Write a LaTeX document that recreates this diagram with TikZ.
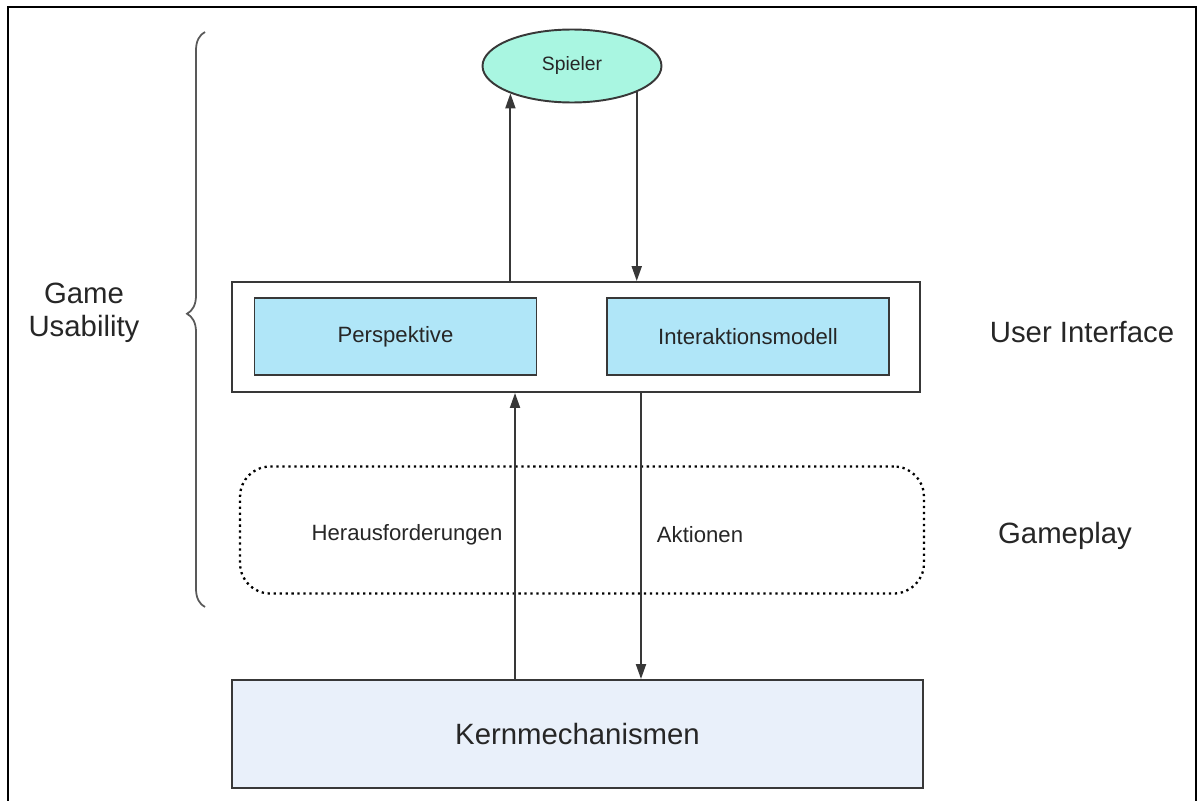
\documentclass[tikz,border=0pt]{standalone}
\usepackage{fontspec}
\setmainfont{Liberation Sans}
\usetikzlibrary{arrows.meta,shapes.geometric,decorations.pathreplacing}

\definecolor{spielergreen}{HTML}{A9F6E1}
\definecolor{uiblue}{HTML}{B0E6F8}
\definecolor{kernblue}{HTML}{E9F0FA}
\definecolor{linegray}{HTML}{383838}

\begin{document}
\begin{tikzpicture}[
  x=0.02cm,
  y=-0.02cm,
  box/.style={
      rectangle,
      draw=linegray,
      line width=1.1pt,
      text centered,
      align=center,
      text=black!85,
      font=\fontsize{12.6pt}{15pt}\selectfont
  },
  module/.style={
      box,
      fill=uiblue,
      minimum width=5.64cm,
      minimum height=1.54cm
  },
  bigtext/.style={
      text=black!85,
      align=center,
      font=\fontsize{16.7pt}{18.7pt}\selectfont
  },
  arrow/.style={
      -{Triangle[length=0.3cm,width=0.2cm]},
      line width=1.1pt,
      draw=linegray,
      fill=black
  }
]

\useasboundingbox (0,0) rectangle (1198,801);

% ==================================================
% Frame
% ==================================================

\draw[line width=1.3pt]
(8,812) -- (8,7) -- (1196,7) -- (1196,812);

% ==================================================
% Player
% ==================================================

\node[
    ellipse,
    draw=linegray,
    line width=1.1pt,
    fill=spielergreen,
    minimum width=3.58cm,
    minimum height=1.46cm,
    inner sep=0pt,
    text=black!85,
    font=\fontsize{11pt}{13pt}\selectfont
] (spieler) at (572,66)
{Spieler};

% ==================================================
% User Interface
% ==================================================

\node[
    box,
    minimum width=13.76cm,
    minimum height=2.2cm
] (ui) at (576,337) {};

\node[module] (persp) at (395.5,336.5)
{Perspektive};

\node[module] (interakt) at (748,336.5)
{Interaktionsmodell};

% ==================================================
% Gameplay
% ==================================================

\node[
    draw=black,
    rounded corners=0.6cm,
    dash pattern=on 1.3pt off 2.1pt,
    line width=1.3pt,
    minimum width=13.68cm,
    minimum height=2.54cm
] (gameplay) at (582,530) {};

\node[box, draw=none] (heraus) at (407,535)
{Herausforderungen};

\node[box, draw=none] (aktionen) at (700,535)
{Aktionen};

% ==================================================
% Core
% ==================================================

\node[
    box,
    fill=kernblue,
    minimum width=13.82cm,
    minimum height=2.16cm,
    font=\fontsize{16.7pt}{19pt}\selectfont
] (kern) at (577.5,734)
{Kernmechanismen};

% ==================================================
% Side labels
% ==================================================

\draw[
    decorate,
    decoration={brace, amplitude=0.36cm, aspect=0.51},
    draw=black!65,
    line width=1pt
]
(205,607) -- (205,32);

\node[bigtext] (usability) at (84,313)
{Game\\Usability};

\node[bigtext] (uilabel) at (1082,332)
{User Interface};

\node[bigtext] (gplabel) at (1065,536)
{Gameplay};

% ==================================================
% Connections
% ==================================================

\draw[arrow]
(ui.north -| spieler.204)
-- (spieler.204);

\draw[arrow]
(spieler.338)
-- (spieler.338 |- ui.north);

\draw[arrow]
([xshift=-1.25cm]kern.north)
-- ([xshift=-1.25cm]kern.north |- ui.south);

\draw[arrow]
([xshift=1.27cm]kern.north |- ui.south)
-- ([xshift=1.27cm]kern.north);

\end{tikzpicture}
\end{document}
